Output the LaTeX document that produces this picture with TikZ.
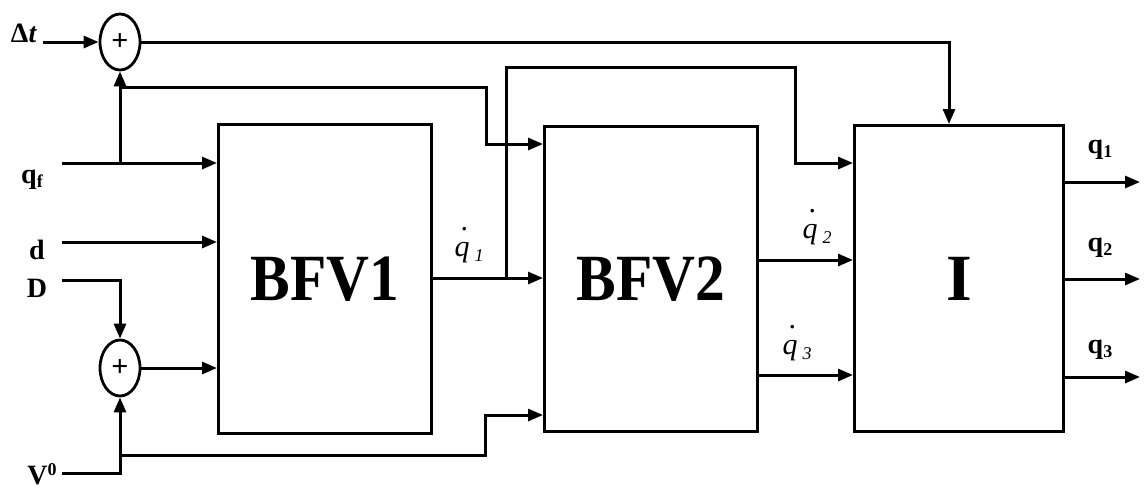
\documentclass[tikz,border=0pt]{standalone}
\usepackage{fontspec}
\setmainfont{Liberation Serif}
\usetikzlibrary{shapes.geometric,arrows.meta}
\newcommand{\sbs}[1]{{\fontsize{18}{18}\selectfont\raisebox{-4pt}{#1}}}
\newcommand{\qdot}[1]{\makebox[0pt][l]{\hspace{6pt}\raisebox{26pt}{.}}\textit{q}\,{\fontsize{18}{18}\selectfont\raisebox{-5pt}{\textit{#1}}}}
\begin{document}
\begin{tikzpicture}[x=1pt,y=-1pt,line width=3pt,line join=miter,
  blk/.style={draw,line width=3pt,inner sep=0pt,anchor=north west,
    font=\bfseries\fontsize{66}{66}\selectfont},
  summer/.style={draw,ellipse,line width=2.8pt,minimum width=40pt,minimum height=56pt,
    inner sep=0pt,font=\bfseries\fontsize{30}{30}\selectfont},
  arr/.style={-{Triangle[length=15pt,width=12pt]}},
  lbl/.style={inner sep=0pt,font=\bfseries\fontsize{28}{28}\selectfont},
  dlbl/.style={inner sep=0pt,font=\fontsize{30}{30}\selectfont}]
\useasboundingbox (0,0) rectangle (1146,491);
% blocks
\node[blk,minimum width=213pt,minimum height=309pt] (b1) at (217,123) {\scalebox{0.9}[1]{BFV1}};
\node[blk,minimum width=213pt,minimum height=305pt] (b2) at (543,125) {\scalebox{0.9}[1]{BFV2}};
\node[blk,minimum width=209pt,minimum height=306pt] (b3) at (853,124) {I};
% summers
\node[summer] (s1) at (120,42) {+};
\node[summer] (s2) at (120,368) {+};
% input coordinates
\coordinate (dt) at (43,42);
\coordinate (qf) at (62,163);
\coordinate (dd) at (62,242);
\coordinate (DD) at (62,280);
\coordinate (V0) at (62,473);
\coordinate (c1) at (949,42);
\coordinate (j1) at (120,87);
\coordinate (j2) at (486,87);
\coordinate (j3) at (506,278);
\coordinate (j4) at (506,67);
\coordinate (j5) at (795,67);
\coordinate (j6) at (120,455);
\coordinate (j7) at (485,455);
\coordinate (o1) at (1140,182);
\coordinate (o2) at (1140,279);
\coordinate (o3) at (1140,377);
% labels
\node[lbl] (ldt) at (24,33) {Δ\textit{t}};
\node[lbl] (lqf) at (32,180) {q\sbs{f}};
\node[lbl] (ld) at (37,250) {d};
\node[lbl] (lD) at (37,288) {D};
\node[lbl] (lV) at (42,474) {V\raisebox{9pt}{\fontsize{18}{18}\selectfont 0}};
\node[dlbl,anchor=base] (lq1d) at (469,256) {\qdot{1}};
\node[dlbl,anchor=base] (lq2d) at (817,238) {\qdot{2}};
\node[dlbl,anchor=base] (lq3d) at (797,354) {\qdot{3}};
\node[lbl] (lq1) at (1100,150) {q\sbs{1}};
\node[lbl] (lq2) at (1100,248) {q\sbs{2}};
\node[lbl] (lq3) at (1100,350) {q\sbs{3}};
% connectors
\draw[arr] (dt) -- (s1.west);
\draw[arr] (s1.east) -- (c1) -- (c1 |- b3.north);
\draw[arr] (qf) -- (qf -| b1.west);
\draw[arr] (s1.south |- qf) -- (s1.south);
\draw[arr] (j1) -- (j2) -- (j2 |- 0,144) -- (b2.west |- 0,144);
\draw[arr] (dd) -- (dd -| b1.west);
\draw[arr] (DD) -- (s2.north |- DD) -- (s2.north);
\draw[arr] (s2.east) -- (s2.east -| b1.west);
\draw[arr] (V0) -- (s2.south |- V0) -- (s2.south);
\draw[arr] (j6) -- (j7) -- (j7 |- 0,415) -- (b2.west |- 0,415);
\draw[arr] (b1.east |- j3) -- (b2.west |- j3);
\draw[arr] (j3) -- (j4) -- (j5) -- (j5 |- 0,163) -- (b3.west |- 0,163);
\draw[arr] (b2.east |- 0,260) -- (b3.west |- 0,260);
\draw[arr] (b2.east |- 0,375) -- (b3.west |- 0,375);
\draw[arr] (b3.east |- o1) -- (o1);
\draw[arr] (b3.east |- o2) -- (o2);
\draw[arr] (b3.east |- o3) -- (o3);
\end{tikzpicture}
\end{document}
